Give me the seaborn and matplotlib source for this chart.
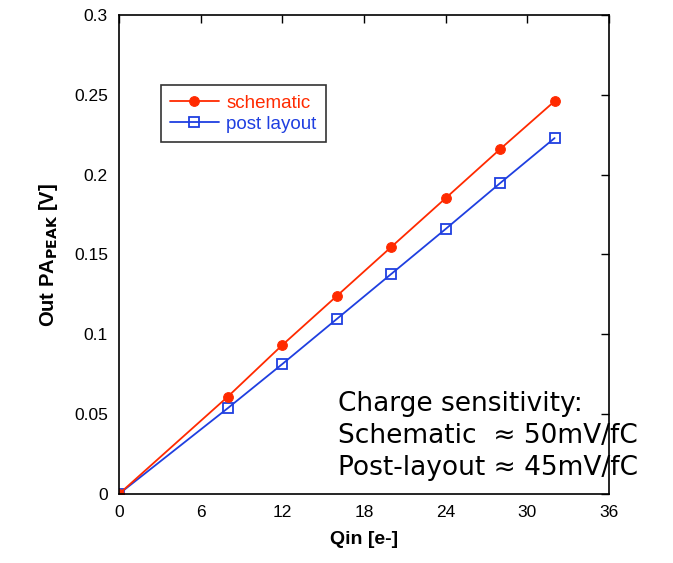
import matplotlib
matplotlib.use("Agg")
import matplotlib.pyplot as plt
import seaborn as sns
import pandas as pd

qin = [0, 8, 12, 16, 20, 24, 28, 32]
schematic = [0.0, 0.0610, 0.0933, 0.1240, 0.1547, 0.1853, 0.2160, 0.2460]
post_layout = [0.0, 0.0538, 0.0814, 0.1096, 0.1378, 0.1660, 0.1947, 0.2229]
x_ticks = [0, 6, 12, 18, 24, 30, 36]
y_ticks = [0, 0.05, 0.1, 0.15, 0.2, 0.25, 0.3]
y_tick_labels = ["0", "0.05", "0.1", "0.15", "0.2", "0.25", "0.3"]

sns.set_style("white")
plt.rcParams['font.family'] = ['Liberation Sans', 'DejaVu Sans']
plt.rcParams['text.color'] = 'black'
plt.rcParams['axes.labelcolor'] = 'black'

RED = "#ff2a00"
BLUE = "#1f3fe0"

df = pd.DataFrame({"Qin": qin * 2,
                   "V": schematic + post_layout,
                   "series": ["schematic"] * len(qin) + ["post layout"] * len(qin)})

fig = plt.figure(figsize=(6.73, 5.63), dpi=100)
ax = fig.add_axes([0.1768, 0.1226, 0.7282, 0.8508])

sns.lineplot(data=df[df.series == "post layout"], x="Qin", y="V", ax=ax,
             color=BLUE, marker="s", markersize=7, markerfacecolor="none",
             markeredgecolor=BLUE, markeredgewidth=1.3, linewidth=1.3,
             label="post layout", legend=False)
sns.lineplot(data=df[df.series == "schematic"], x="Qin", y="V", ax=ax,
             color=RED, marker="o", markersize=7, markeredgecolor=RED,
             linewidth=1.3, label="schematic", legend=False)

ax.set_xlim(0, 36)
ax.set_ylim(0, 0.3)
ax.set_xticks(x_ticks)
ax.set_yticks(y_ticks)
ax.set_yticklabels(y_tick_labels)
ax.tick_params(direction="in", length=6, width=1, top=True, right=True,
               labelsize=12.5, pad=8, colors="black")
for s in ax.spines.values():
    s.set_color("black")
    s.set_linewidth(1.2)
ax.set_xlabel("Qin [e-]", fontsize=14, fontweight="bold", labelpad=8)
ax.set_ylabel(r"Out PA$_{\mathbf{PEAK}}$ [V]", fontsize=14.5, fontweight="bold", labelpad=10)

handles, labels = ax.get_legend_handles_labels()
order = [labels.index("schematic"), labels.index("post layout")]
leg = ax.legend([handles[i] for i in order], [labels[i] for i in order],
                loc="upper left", bbox_to_anchor=(0.066, 0.873), fontsize=13.5,
                frameon=True, fancybox=False, edgecolor="black",
                handlelength=2.6, borderpad=0.5, labelspacing=0.2, handletextpad=0.4)
leg.get_frame().set_linewidth(1.2)
for t, c in zip(leg.get_texts(), [RED, BLUE]):
    t.set_color(c)

ax.text(0.447, 0.215, "Charge sensitivity:\nSchematic  \u2248 50mV/fC\nPost-layout \u2248 45mV/fC",
        transform=ax.transAxes, fontsize=19, family=["DejaVu Sans"], color="black",
        va="top", ha="left", linespacing=1.3)

fig.savefig("out.png", dpi=100)
